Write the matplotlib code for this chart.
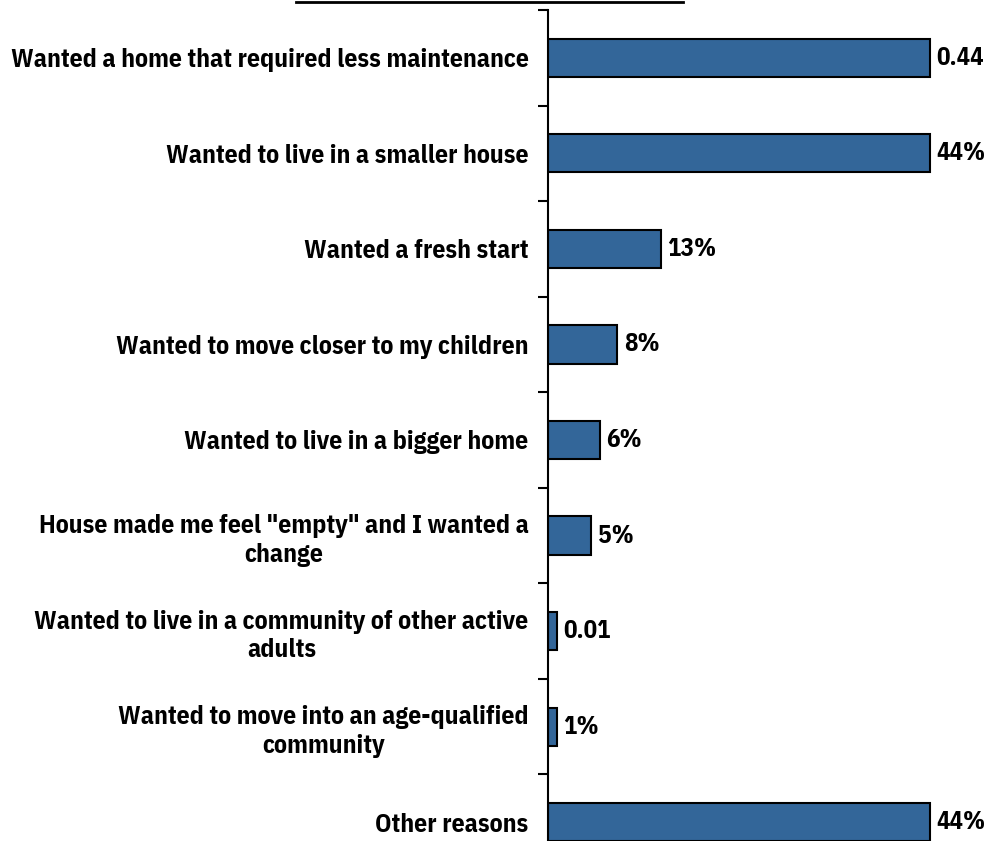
import matplotlib
matplotlib.use("Agg")
import matplotlib.pyplot as plt
from matplotlib.lines import Line2D
import numpy as np

plt.rcParams['font.family'] = ['Liberation Sans Narrow', 'IBM Plex Sans Condensed', 'DejaVu Sans']
plt.rcParams['font.weight'] = 'bold'

reasons = [
    "Wanted a home that required less maintenance",
    "Wanted to live in a smaller house",
    "Wanted a fresh start",
    "Wanted to move closer to my children",
    "Wanted to live in a bigger home",
    "House made me feel \"empty\" and I wanted a\nchange",
    "Wanted to live in a community of other active\nadults",
    "Wanted to move into an age-qualified\ncommunity",
    "Other reasons",
]
shares = [0.44, 0.44, 0.13, 0.08, 0.06, 0.05, 0.01, 0.01, 0.44]
share_labels = ["0.44", "44%", "13%", "8%", "6%", "5%", "0.01", "1%", "44%"]

fig = plt.figure(figsize=(9.87, 8.41), dpi=100)
W, H = 987, 841
# axes runs off the bottom of the picture, like the original
ax = fig.add_axes([548 / W, (H - 870) / H, 434 / W, 860 / H])

ypos = np.arange(len(reasons))
ax.barh(ypos, shares, height=0.4, color="#336699", edgecolor="black", linewidth=1.5)

for y, v, lab in zip(ypos, shares, share_labels):
    ax.annotate(lab, (v, y), xytext=(4.5, 0), textcoords="offset points",
                va="center", ha="left", fontsize=18, fontweight="bold",
                annotation_clip=False)

ax.set_xlim(0, 0.5)
ax.set_ylim(len(reasons) - 0.5, -0.5)
ax.set_yticks(ypos)
ax.set_yticklabels(reasons, fontsize=18.5, fontweight="bold",
                   multialignment="center", linespacing=1.25)
ax.tick_params(axis="y", which="major", length=0, pad=14)
ax.set_yticks(np.arange(-0.5, len(reasons) - 1, 1), minor=True)
ax.tick_params(axis="y", which="minor", length=7, width=1.5, direction="out")
ax.set_xticks([])

for s in ["top", "right", "bottom"]:
    ax.spines[s].set_visible(False)
ax.spines["left"].set_linewidth(1.5)

# line at the top, left over from the title
fig.add_artist(Line2D([296 / W, 683 / W], [1 - 1.5 / H, 1 - 1.5 / H],
                      color="black", linewidth=2, transform=fig.transFigure))

fig.savefig("out.png", dpi=100)
